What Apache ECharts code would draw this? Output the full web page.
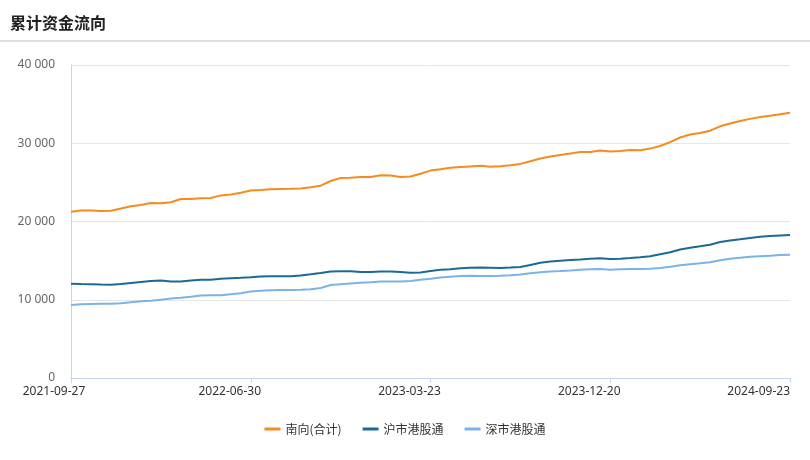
<!DOCTYPE html>
<html>
<head>
<meta charset="utf-8">
<script src="https://cdn.jsdelivr.net/npm/echarts@6/dist/echarts.min.js"></script>
<style>
html,body{margin:0;padding:0;background:#fff;}
#c{width:810px;height:460px;}
</style>
</head>
<body>
<div id="c"></div>
<script>
var title = '累计资金流向';
var seriesNames = ['南向(合计)', '沪市港股通', '深市港股通'];
var yTicks = [0, 10000, 20000, 30000, 40000];

var dates = [
  '2021-09-27','2021-10-13','2021-10-28','2021-11-12','2021-11-26','2021-12-13','2021-12-28','2022-01-12','2022-01-27','2022-02-15',
  '2022-03-02','2022-03-17','2022-04-01','2022-04-20','2022-05-06','2022-05-20','2022-06-02','2022-06-16','2022-06-30',
  '2022-07-15','2022-07-29','2022-08-12','2022-08-26','2022-09-09','2022-09-23','2022-10-12','2022-10-26','2022-11-09','2022-11-23',
  '2022-12-07','2022-12-21','2023-01-05','2023-01-19','2023-02-07','2023-02-21','2023-03-08','2023-03-23',
  '2023-04-06','2023-04-21','2023-05-08','2023-05-23','2023-06-07','2023-06-21','2023-07-07','2023-07-21','2023-08-04','2023-08-18',
  '2023-09-01','2023-09-15','2023-10-03','2023-10-18','2023-11-02','2023-11-17','2023-12-04','2023-12-20',
  '2024-01-05','2024-01-19','2024-02-02','2024-02-21','2024-03-06','2024-03-20','2024-04-09','2024-04-24','2024-05-10','2024-05-27',
  '2024-06-11','2024-06-26','2024-07-11','2024-07-25','2024-08-08','2024-08-22','2024-09-06','2024-09-23'
];

var southTotal = [
  21253, 21407, 21407, 21343, 21381, 21662, 21956, 22109, 22365, 22339,
  22454, 22876, 22876, 22966, 23004, 23336, 23451, 23681, 23963, 24026,
  24116, 24167, 24193, 24231, 24371, 24576, 25177, 25560, 25598, 25675,
  25688, 25905, 25880, 25688, 25752, 26097, 26506, 26672, 26864, 26966,
  27042, 27119, 26991, 27055, 27196, 27362, 27694, 28052, 28308, 28499,
  28678, 28870, 28883, 29062, 28947, 28998, 29126, 29113, 29317, 29650,
  30148, 30736, 31119, 31298, 31605, 32167, 32525, 32845, 33113, 33343,
  33522, 33714, 33893
];

var shanghai = [
  12052, 12013, 11988, 11949, 11924, 12013, 12141, 12269, 12397, 12461,
  12333, 12333, 12461, 12550, 12563, 12678, 12754, 12806, 12882, 12972,
  12997, 12997, 12997, 13100, 13253, 13419, 13611, 13636, 13636, 13547,
  13547, 13611, 13611, 13547, 13457, 13483, 13675, 13828, 13905, 14020,
  14084, 14135, 14096, 14058, 14122, 14199, 14441, 14735, 14876, 14978,
  15068, 15132, 15234, 15310, 15221, 15247, 15336, 15438, 15553, 15809,
  16064, 16422, 16640, 16831, 17023, 17381, 17573, 17726, 17892, 18045,
  18148, 18212, 18275
];

var shenzhen = [
  9329, 9419, 9457, 9483, 9496, 9547, 9674, 9802, 9879, 9994,
  10160, 10250, 10390, 10544, 10569, 10569, 10697, 10825, 11055, 11144,
  11208, 11234, 11259, 11285, 11336, 11502, 11885, 11988, 12090, 12167,
  12230, 12333, 12345, 12320, 12397, 12550, 12678, 12831, 12946, 13036,
  13061, 13048, 13036, 13074, 13138, 13227, 13381, 13521, 13623, 13675,
  13739, 13828, 13892, 13917, 13841, 13892, 13917, 13930, 13956, 14058,
  14211, 14416, 14544, 14659, 14786, 15055, 15247, 15362, 15489, 15553,
  15617, 15707, 15745
];

var colors = ['#f68b1f', '#1b6a96', '#7ab3ea'];
var labelEvery = 18;

function fmtThousands(v) {
  return String(v).replace(/\B(?=(\d{3})+(?!\d))/g, ' ');
}

var chart = echarts.init(document.getElementById('c'), null, {renderer: 'canvas'});
var lastIdx = dates.length - 1;

chart.setOption({
  animation: false,
  backgroundColor: '#fff',
  color: colors,
  graphic: [
    {type: 'text', left: 10, top: 15, style: {text: title, fill: '#222', font: 'bold 16px "Noto Sans CJK SC", sans-serif'}},
    {type: 'rect', left: 0, top: 40, shape: {width: 810, height: 2}, style: {fill: '#dddddd'}}
  ],
  legend: {
    bottom: 20,
    left: 'center',
    icon: 'rect',
    itemWidth: 16,
    itemHeight: 3,
    itemGap: 21,
    textStyle: {color: '#333', fontSize: 12, fontFamily: '"Noto Sans CJK SC", sans-serif'},
    data: seriesNames
  },
  grid: {left: 71, right: 20, top: 65, bottom: 82, containLabel: false},
  xAxis: {
    type: 'category',
    data: dates,
    boundaryGap: false,
    axisLine: {lineStyle: {color: '#c6d5ee', width: 1}},
    axisTick: {
      alignWithLabel: true,
      interval: function (i) { return i % labelEvery === 0; },
      length: 5,
      lineStyle: {color: '#c6d5ee'}
    },
    axisLabel: {
      interval: function (i) { return i % labelEvery === 0; },
      color: '#333',
      fontSize: 12,
      margin: 8,
      fontFamily: '"Noto Sans", sans-serif',
      alignMaxLabel: 'right',
      formatter: function (v, i) {
        if (i === 0) return '{f|' + v + '}';
        if (i === lastIdx) return '{l|' + v + '}';
        return '{m|' + v + '}';
      },
      rich: {
        f: {padding: [0, 34, 0, 0], fontSize: 12, color: '#333', fontFamily: '"Noto Sans", sans-serif'},
        m: {padding: [0, 42, 0, 0], fontSize: 12, color: '#333', fontFamily: '"Noto Sans", sans-serif'},
        l: {padding: [0, 0, 0, 0], fontSize: 12, color: '#333', fontFamily: '"Noto Sans", sans-serif'}
      }
    },
    splitLine: {show: false}
  },
  yAxis: {
    type: 'value',
    min: yTicks[0],
    max: yTicks[yTicks.length - 1],
    interval: yTicks[1] - yTicks[0],
    axisLine: {show: true, lineStyle: {color: '#c6d5ee'}},
    axisTick: {show: false},
    axisLabel: {
      color: '#666',
      fontSize: 12,
      margin: 16,
      fontFamily: '"Noto Sans", sans-serif',
      formatter: fmtThousands
    },
    splitLine: {lineStyle: {color: '#e6e6e6', width: 1}}
  },
  series: [
    {name: seriesNames[0], type: 'line', data: southTotal, showSymbol: false, symbol: 'none', lineStyle: {width: 2}},
    {name: seriesNames[1], type: 'line', data: shanghai, showSymbol: false, symbol: 'none', lineStyle: {width: 2}},
    {name: seriesNames[2], type: 'line', data: shenzhen, showSymbol: false, symbol: 'none', lineStyle: {width: 2}}
  ]
});
</script>
</body>
</html>
